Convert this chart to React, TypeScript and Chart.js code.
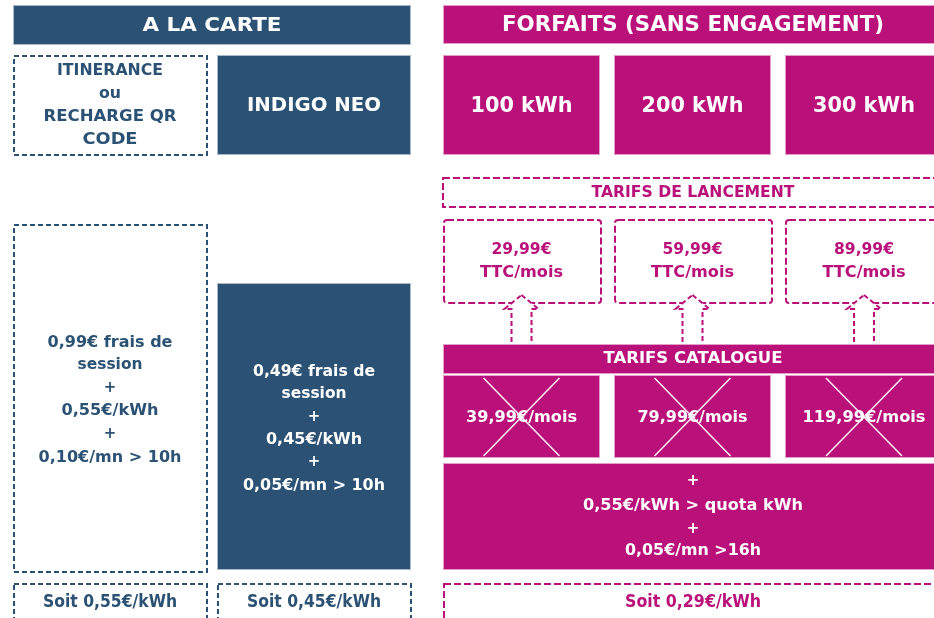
import React, { useEffect, useRef } from "react";
import { Chart, registerables } from "chart.js";

Chart.register(...registerables);

// ---- content ----
const sectionTitles = ["A LA CARTE", "FORFAITS (SANS ENGAGEMENT)"];
const alaCarteOffers = [["ITINERANCE", "ou", "RECHARGE QR", "CODE"], ["INDIGO NEO"]];
const forfaitNames = ["100 kWh", "200 kWh", "300 kWh"];
const launchLabel = "TARIFS DE LANCEMENT";
const launchPrices = [29.99, 59.99, 89.99];
const catalogLabel = "TARIFS CATALOGUE";
const catalogPrices = [39.99, 79.99, 119.99];
const alaCarteTerms = [
  ["0,99€ frais de", "session", "+", "0,55€/kWh", "+", "0,10€/mn > 10h"],
  ["0,49€ frais de", "session", "+", "0,45€/kWh", "+", "0,05€/mn > 10h"],
];
const forfaitTerms = ["+", "0,55€/kWh > quota kWh", "+", "0,05€/mn >16h"];
const equivalentPrices = [0.55, 0.45, 0.29];

const fmt = (v: number) => v.toFixed(2).replace(".", ",");

const BLUE = "#2b5274";
const MAG = "#b9107a";
const FONT = '"DejaVu Sans", sans-serif';
const NARROW = '"DejaVu Sans Condensed", "Liberation Sans Narrow", sans-serif';

const infographic = {
  id: "infographic",
  afterDraw(chart: any) {
    const ctx: CanvasRenderingContext2D = chart.ctx;
    const xs = chart.scales.x;
    const ys = chart.scales.y;
    const X = (v: number) => xs.getPixelForValue(v);
    const Y = (v: number) => ys.getPixelForValue(v);

    const fillRect = (x0: number, y0: number, x1: number, y1: number, c: string) => {
      ctx.save();
      ctx.fillStyle = c;
      ctx.fillRect(X(x0), Y(y0), X(x1) - X(x0), Y(y1) - Y(y0));
      ctx.strokeStyle = "rgba(255,255,255,0.6)";
      ctx.lineWidth = 1;
      ctx.strokeRect(X(x0) + 0.5, Y(y0) + 0.5, X(x1) - X(x0) - 1, Y(y1) - Y(y0) - 1);
      ctx.restore();
    };
    const dashRect = (x0: number, y0: number, x1: number, y1: number, c: string, dash: number[], r = 0) => {
      ctx.save();
      ctx.strokeStyle = c;
      ctx.lineWidth = 2;
      ctx.setLineDash(dash);
      ctx.beginPath();
      if (r > 0 && (ctx as any).roundRect) {
        (ctx as any).roundRect(X(x0), Y(y0), X(x1) - X(x0), Y(y1) - Y(y0), r);
      } else {
        ctx.rect(X(x0), Y(y0), X(x1) - X(x0), Y(y1) - Y(y0));
      }
      ctx.stroke();
      ctx.restore();
    };
    const text = (s: string, cx: number, cy: number, size: number, width: number, c: string, fam = FONT) => {
      ctx.save();
      ctx.font = `bold ${size}px ${fam}`;
      const m = ctx.measureText(s).width;
      const sx = width > 0 ? width / m : 1;
      ctx.translate(X(cx), Y(cy));
      ctx.scale(sx, 1);
      ctx.fillStyle = c;
      ctx.textAlign = "center";
      ctx.textBaseline = "middle";
      ctx.fillText(s, 0, 0);
      ctx.restore();
    };

    // --- headers
    fillRect(13, 5, 411, 45, BLUE);
    text(sectionTitles[0], 212, 26, 20, 139, "#fff");
    fillRect(443, 5, 945, 44, MAG);
    text(sectionTitles[1], 693, 26, 21, 382, "#fff");

    // --- offer row
    const bDash = [5, 3];
    const mDash = [7, 3];
    dashRect(14, 56, 207, 155, BLUE, bDash);
    const offerY = [71, 94, 117, 140];
    const offerW = [106, 22, 133, 55];
    alaCarteOffers[0].forEach((s, i) => text(s, 110, offerY[i], i === 1 ? 15 : 16, offerW[i], BLUE));
    fillRect(217, 55, 411, 155, BLUE);
    text(alaCarteOffers[1][0], 314, 106, 19, 134, "#fff");

    const colX = [[443, 600], [614, 771], [785, 943]];
    const colC = colX.map((c) => (c[0] + c[1]) / 2);
    forfaitNames.forEach((s, i) => {
      fillRect(colX[i][0], 55, colX[i][1], 155, MAG);
      text(s, colC[i], 107, 21, 102, "#fff");
    });

    // --- launch prices
    dashRect(443, 178, 945, 207, MAG, mDash);
    text(launchLabel, 693, 193, 15, 203, MAG);
    const launchW = [60, 60, 60];
    launchPrices.forEach((v, i) => {
      dashRect(colX[i][0] + 1, 220, colX[i][1] + 1, 303, MAG, mDash, 3);
      text(fmt(v) + "€", colC[i], 250, 16, launchW[i], MAG);
      text("TTC/mois", colC[i], 273, 16, 83, MAG);
    });

    // --- arrows
    colC.forEach((cx) => {
      ctx.save();
      ctx.strokeStyle = MAG;
      ctx.fillStyle = "#fff";
      ctx.lineWidth = 2;
      ctx.setLineDash([5, 3]);
      ctx.beginPath();
      const pts = [
        [cx, 295], [cx + 17, 309], [cx + 10, 309], [cx + 10, 345],
        [cx - 10, 345], [cx - 10, 309], [cx - 17, 309],
      ];
      pts.forEach((p, k) => (k === 0 ? ctx.moveTo(X(p[0]), Y(p[1])) : ctx.lineTo(X(p[0]), Y(p[1]))));
      ctx.closePath();
      ctx.fill();
      ctx.stroke();
      ctx.restore();
    });

    // --- catalogue
    fillRect(443, 344, 945, 374, MAG);
    text(catalogLabel, 693, 359, 15, 179, "#fff");
    const catW = [111, 110, 123];
    catalogPrices.forEach((v, i) => {
      fillRect(colX[i][0], 375, colX[i][1], 458, MAG);
      text(fmt(v) + "€/mois", colC[i], 418, 16, catW[i], "#fff");
      ctx.save();
      ctx.strokeStyle = "rgba(255,255,255,0.9)";
      ctx.lineWidth = 1.6;
      ctx.beginPath();
      ctx.moveTo(X(colC[i] - 38), Y(378));
      ctx.lineTo(X(colC[i] + 38), Y(456));
      ctx.moveTo(X(colC[i] + 38), Y(378));
      ctx.lineTo(X(colC[i] - 38), Y(456));
      ctx.stroke();
      ctx.restore();
    });

    // --- forfait terms
    fillRect(443, 463, 945, 570, MAG);
    const ftY = [481, 506, 529, 551];
    const ftW = [0, 220, 0, 136];
    forfaitTerms.forEach((s, i) => text(s, 693, ftY[i], 15, ftW[i], "#fff"));

    // --- a la carte terms
    dashRect(14, 225, 207, 572, BLUE, bDash);
    const t0Y = [343, 365, 388, 411, 434, 458];
    const tW = [125, 65, 0, 97, 0, 143];
    alaCarteTerms[0].forEach((s, i) => text(s, 110, t0Y[i], 15, tW[i], BLUE));
    fillRect(217, 283, 411, 570, BLUE);
    const t1Y = [372, 394, 417, 440, 462, 486];
    const t1W = [122, 65, 0, 96, 0, 142];
    alaCarteTerms[1].forEach((s, i) => text(s, 314, t1Y[i], 15, t1W[i], "#fff"));

    // --- equivalent price
    dashRect(14, 584, 207, 630, BLUE, bDash);
    dashRect(218, 584, 411, 630, BLUE, bDash);
    dashRect(444, 584, 945, 630, MAG, mDash);
    const eqC = [110, 314, 693];
    const eqW = [134, 134, 136];
    const eqCol = [BLUE, BLUE, MAG];
    equivalentPrices.forEach((v, i) =>
      text("Soit " + fmt(v) + "€/kWh", eqC[i], 603, 17, eqW[i], eqCol[i], NARROW)
    );
  },
};

export default function App() {
  const ref = useRef<HTMLCanvasElement | null>(null);
  useEffect(() => {
    if (!ref.current) return;
    const chart = new Chart(ref.current, {
      type: "scatter",
      data: { datasets: [{ data: [], pointRadius: 0 }] },
      options: {
        animation: false,
        responsive: false,
        devicePixelRatio: 1,
        layout: { padding: 0 },
        scales: {
          x: { type: "linear", min: 0, max: 934, display: false },
          y: { type: "linear", min: 0, max: 618, reverse: true, display: false },
        },
        plugins: { legend: { display: false }, tooltip: { enabled: false } },
      },
      plugins: [infographic],
    });
    return () => chart.destroy();
  }, []);
  return (
    <div style={{ position: "absolute", left: 0, top: 0, width: 934, height: 618, background: "#fff" }}>
      <canvas ref={ref} width={934} height={618} style={{ display: "block" }} />
    </div>
  );
}
